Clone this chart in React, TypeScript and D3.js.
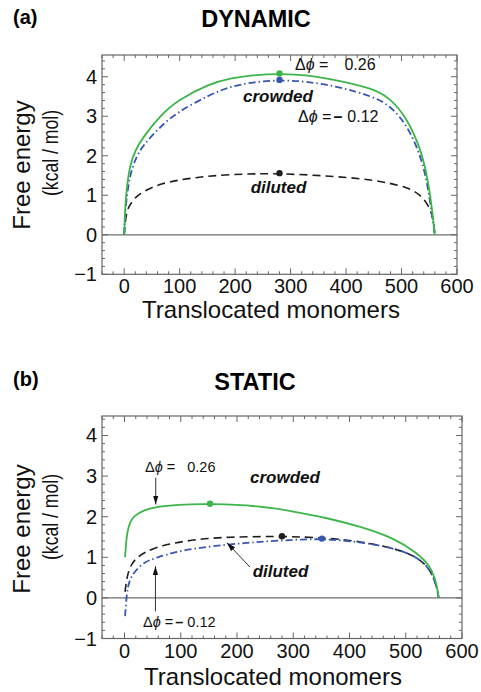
import React from "react";
import * as d3 from "d3";

// (a) DYNAMIC
const aGreenN = [0, 1, 3, 10, 20, 34, 64, 95, 155, 191, 230, 280, 330, 389, 449, 480, 510, 534, 546, 555, 560];
const aGreenF = [0, 0.45, 1.0, 1.77, 2.14, 2.47, 3.0, 3.4, 3.83, 3.96, 4.04, 4.08, 4.05, 3.9, 3.7, 3.45, 2.95, 2.19, 1.52, 0.67, 0];
const aBlueN = [0, 1, 3, 10, 20, 34, 64, 95, 155, 191, 230, 280, 330, 389, 449, 480, 510, 534, 546, 555, 560];
const aBlueF = [0, 0.3, 0.8, 1.5, 1.92, 2.27, 2.72, 3.1, 3.55, 3.75, 3.86, 3.92, 3.88, 3.74, 3.5, 3.26, 2.78, 2.02, 1.35, 0.5, 0];
const aBlackN = [0, 2, 5, 10, 20, 34, 64, 124, 191, 280, 389, 449, 510, 534, 548, 555, 558, 560];
const aBlackF = [0, 0.35, 0.6, 0.76, 0.95, 1.09, 1.3, 1.45, 1.53, 1.56, 1.47, 1.39, 1.22, 1.01, 0.76, 0.5, 0.3, 0];

// (b) STATIC
const bGreenN = [1, 4, 10, 16, 34, 55, 93, 152, 241, 300, 360, 419, 478, 520, 544, 552.5, 556, 558.5];
const bGreenF = [1.0, 1.6, 1.88, 2.01, 2.16, 2.24, 2.3, 2.32, 2.27, 2.13, 1.97, 1.76, 1.48, 1.11, 0.78, 0.45, 0.25, 0];
const bBlackN = [1, 4, 10, 20, 34, 63, 123, 182, 280, 360, 419, 478, 520, 544, 555, 558.5];
const bBlackF = [0.15, 0.5, 0.78, 0.97, 1.11, 1.29, 1.44, 1.5, 1.52, 1.48, 1.39, 1.23, 1.02, 0.7, 0.29, 0];
const bBlueN = [1, 4, 8, 16, 34, 55, 93, 152, 212, 247, 300, 351, 419, 478, 520, 544, 555, 558.5];
const bBlueF = [-0.45, 0.12, 0.4, 0.62, 0.88, 0.98, 1.15, 1.27, 1.35, 1.39, 1.43, 1.46, 1.38, 1.23, 1.02, 0.7, 0.29, 0];

// maxima marked with dots [n, F]
const aDots = [[280, 4.08], [280, 3.92], [280, 1.56]];
const bDots = [[152, 2.32], [280, 1.52], [351, 1.46]];

const xTicks = [0, 100, 200, 300, 400, 500, 600];
const yTicks = [-1, 0, 1, 2, 3, 4];

const GREEN = "#3cb54a";
const BLUE = "#3656b0";
const BLACK = "#1e1e1e";
const FRAME = "#666";
const FONT = "'Liberation Sans', Arial, Helvetica, sans-serif";

type Series = { n: number[]; f: number[]; color: string; dash?: string; width: number };

function Panel({ x, y, series, dots, dotColors }: any) {
  const [x0, x1] = x.range();
  const [y0, y1] = y.range();
  const line = d3
    .line<[number, number]>()
    .x((d) => x(d[0]))
    .y((d) => y(d[1]))
    .curve(d3.curveBasis);
  const minorX = d3.range(-40, 601, 20).filter((v) => v % 100 !== 0);
  const minorY = d3.range(-10, 45, 2).map((v) => v / 10).filter((v) => Math.abs(v - Math.round(v)) > 1e-6);

  return (
    <g>
      {/* zero axis */}
      <line x1={x0} x2={x1} y1={y(0)} y2={y(0)} stroke="#6e6e6e" strokeWidth={1.3} />
      {series.map((s: Series, i: number) => (
        <path
          key={i}
          d={line(s.n.map((v, j) => [v, s.f[j]]) as [number, number][]) || ""}
          fill="none"
          stroke={s.color}
          strokeWidth={s.width}
          strokeDasharray={s.dash}
        />
      ))}
      {dots.map((d: number[], i: number) => (
        <circle key={i} cx={x(d[0])} cy={y(d[1])} r={3.2} fill={dotColors[i]} />
      ))}
      {/* frame */}
      <rect x={x0} y={y1} width={x1 - x0} height={y0 - y1} fill="none" stroke={FRAME} strokeWidth={1.2} />
      {xTicks.map((t) => (
        <g key={"xt" + t}>
          <line x1={x(t)} x2={x(t)} y1={y0} y2={y0 - 6} stroke={FRAME} />
          <line x1={x(t)} x2={x(t)} y1={y1} y2={y1 + 6} stroke={FRAME} />
          <text x={x(t)} y={y0 + 19} textAnchor="middle" fontSize={20} fontFamily={FONT} fill="#111">
            {t}
          </text>
        </g>
      ))}
      {minorX.map((t) => (
        <g key={"xm" + t}>
          <line x1={x(t)} x2={x(t)} y1={y0} y2={y0 - 3} stroke={FRAME} />
          <line x1={x(t)} x2={x(t)} y1={y1} y2={y1 + 3} stroke={FRAME} />
        </g>
      ))}
      {yTicks.map((t) => (
        <g key={"yt" + t}>
          <line x1={x0} x2={x0 + 6} y1={y(t)} y2={y(t)} stroke={FRAME} />
          <line x1={x1} x2={x1 - 6} y1={y(t)} y2={y(t)} stroke={FRAME} />
          <text x={x0 - 5} y={y(t) + 7} textAnchor="end" fontSize={20} fontFamily={FONT} fill="#111">
            {t < 0 ? "\u2212" + Math.abs(t) : t}
          </text>
        </g>
      ))}
      {minorY.map((t) => (
        <g key={"ym" + t}>
          <line x1={x0} x2={x0 + 3} y1={y(t)} y2={y(t)} stroke={FRAME} />
          <line x1={x1} x2={x1 - 3} y1={y(t)} y2={y(t)} stroke={FRAME} />
        </g>
      ))}
    </g>
  );
}

function AxisLabels({ cx, xBase, yCenter }: { cx: number; xBase: number; yCenter: number }) {
  return (
    <g fontFamily={FONT} fill="#111">
      <text x={cx} y={xBase} textAnchor="middle" fontSize={24}>
        Translocated monomers
      </text>
      <text transform={`translate(30,${yCenter}) rotate(-90)`} textAnchor="middle" fontSize={24}>
        Free energy
      </text>
      <text
        transform={`translate(58,${yCenter - 12}) rotate(-90)`}
        textAnchor="middle"
        fontSize={22.5}
        textLength={86}
        lengthAdjust="spacingAndGlyphs"
      >
        (kcal / mol)
      </text>
    </g>
  );
}

function DeltaPhi({ x, y, value, neg, size, gap }: any) {
  return (
    <text x={x} y={y} fontSize={size} fontFamily={FONT} fill="#111">
      {"\u0394"}
      <tspan fontStyle="italic">{"\u03D5"}</tspan>
      {" ="}
      {neg ? (
        <tspan dx={2} fontWeight="bold">
          {"\u2013"}
        </tspan>
      ) : null}
      <tspan dx={gap}>{value}</tspan>
    </text>
  );
}

export default function App() {
  const xa = d3.scaleLinear().domain([-40, 600]).range([102, 457]);
  const ya = d3.scaleLinear().domain([-1, 4.55]).range([274.3, 55]);
  const xb = d3.scaleLinear().domain([-40, 600]).range([102, 462]);
  const yb = d3.scaleLinear().domain([-1, 4.48]).range([638.5, 416]);

  const seriesA: Series[] = [
    { n: aBlackN, f: aBlackF, color: BLACK, dash: "8,5", width: 1.6 },
    { n: aBlueN, f: aBlueF, color: BLUE, dash: "7,3,1.5,3", width: 1.8 },
    { n: aGreenN, f: aGreenF, color: GREEN, width: 1.8 },
  ];
  const seriesB: Series[] = [
    { n: bBlackN, f: bBlackF, color: BLACK, dash: "8,5", width: 1.6 },
    { n: bBlueN, f: bBlueF, color: BLUE, dash: "7,3,1.5,3", width: 1.8 },
    { n: bGreenN, f: bGreenF, color: GREEN, width: 1.8 },
  ];

  const italicBold = { fontFamily: FONT, fontWeight: "bold" as const, fontStyle: "italic" as const, fill: "#111" };

  return (
    <svg
      width={481}
      height={692}
      style={{ position: "absolute", left: 0, top: 0, background: "#fff" }}
    >
      <defs>
        <marker id="ah" viewBox="0 0 10 6" refX={10} refY={3} markerWidth={9} markerHeight={6} markerUnits="userSpaceOnUse" orient="auto">
          <path d="M0,0 L10,3 L0,6 z" fill="#111" />
        </marker>
      </defs>

      {/* (a) */}
      <text x={13} y={24} fontSize={20} fontWeight="bold" fontFamily={FONT}>(a)</text>
      <text x={256} y={26.5} fontSize={23.5} fontWeight="bold" fontFamily={FONT} textAnchor="middle">DYNAMIC</text>
      <Panel x={xa} y={ya} series={seriesA} dots={aDots} dotColors={[GREEN, BLUE, BLACK]} />
      <AxisLabels cx={271} xBase={318} yCenter={165} />
      <DeltaPhi x={295} y={70} value="0.26" size={16} gap={16} />
      <text x={278} y={102} fontSize={17} textAnchor="middle" {...italicBold}>crowded</text>
      <DeltaPhi x={298} y={121.5} value="0.12" neg size={16} gap={5} />
      <text x={278.5} y={192.5} fontSize={17} textAnchor="middle" {...italicBold}>diluted</text>

      {/* (b) */}
      <text x={13} y={386} fontSize={20} fontWeight="bold" fontFamily={FONT}>(b)</text>
      <text x={255} y={390} fontSize={23.5} fontWeight="bold" fontFamily={FONT} textAnchor="middle">STATIC</text>
      <Panel x={xb} y={yb} series={seriesB} dots={bDots} dotColors={[GREEN, BLACK, BLUE]} />
      <AxisLabels cx={273} xBase={685} yCenter={529} />
      <DeltaPhi x={145} y={471.5} value="0.26" size={14.5} gap={12} />
      <line x1={xb(55.5)} x2={xb(55.5)} y1={yb(2.96)} y2={yb(2.3)} stroke="#333" strokeWidth={1} markerEnd="url(#ah)" />
      <text x={285} y={483} fontSize={17} textAnchor="middle" {...italicBold}>crowded</text>
      <text x={280.5} y={576.5} fontSize={17} textAnchor="middle" {...italicBold}>diluted</text>
      <line x1={xb(223)} x2={xb(182)} y1={yb(0.76)} y2={yb(1.36)} stroke="#333" strokeWidth={1} markerEnd="url(#ah)" />
      <line x1={xb(55)} x2={xb(55)} y1={yb(-0.33)} y2={yb(0.78)} stroke="#333" strokeWidth={1} markerEnd="url(#ah)" />
      <DeltaPhi x={143} y={626.5} value="0.12" neg size={14.5} gap={4} />
    </svg>
  );
}
